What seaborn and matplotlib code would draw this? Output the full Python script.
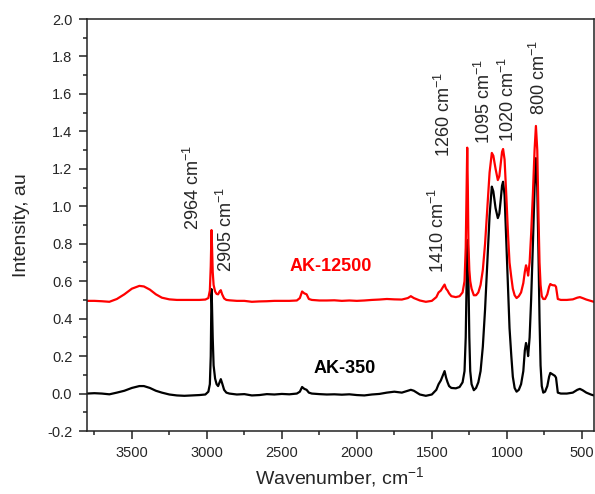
import numpy as np
import pandas as pd
import matplotlib
matplotlib.use("Agg")
import matplotlib.pyplot as plt
import seaborn as sns
from matplotlib.ticker import MultipleLocator

# wavenumber grid (cm-1) shared by both spectra
wavenumber = [
    3800, 3750, 3700, 3650, 3600, 3550, 3500, 3450, 3420, 3380, 3340, 3300,
    3250, 3200, 3150, 3100, 3050, 3010, 2990, 2980, 2974, 2969, 2966, 2961,
    2955, 2945, 2935, 2925, 2915, 2907, 2898, 2885, 2870, 2850, 2800, 2750,
    2700, 2650, 2600, 2550, 2500, 2450, 2400, 2380, 2365, 2350, 2335, 2320,
    2300, 2250, 2200, 2150, 2100, 2050, 2000, 1950, 1900, 1850, 1800, 1750,
    1700, 1660, 1640, 1620, 1580, 1540, 1500, 1470, 1455, 1440, 1425, 1415,
    1405, 1395, 1385, 1370, 1340, 1315, 1295, 1282, 1274, 1268, 1264, 1260,
    1256, 1250, 1244, 1235, 1220, 1205, 1190, 1175, 1160, 1145, 1130, 1115,
    1100, 1090, 1075, 1060, 1050, 1040, 1032, 1025, 1015, 1003, 992, 982,
    970, 960, 948, 935, 920, 905, 890, 880, 872, 864, 858, 848, 838, 826,
    815, 806, 797, 789, 782, 775, 767, 757, 745, 730, 718, 710, 700, 690,
    680, 672, 665, 660, 640, 600, 560, 530, 513, 495, 470, 440, 420,
]

ak350 = [
    0.000, 0.002, 0.000, -0.004, 0.005, 0.015, 0.030, 0.040, 0.040, 0.030, 0.015, 0.005,
    -0.005, -0.010, -0.012, -0.010, -0.008, -0.005, 0.010, 0.050, 0.200, 0.558, 0.480, 0.300,
    0.150, 0.080, 0.050, 0.040, 0.060, 0.077, 0.055, 0.020, 0.005, 0.000, -0.005, -0.003,
    -0.010, -0.008, -0.003, -0.005, -0.002, -0.004, 0.000, 0.010, 0.035, 0.025, 0.020, 0.005,
    0.000, -0.003, -0.005, -0.004, -0.006, -0.004, -0.008, -0.010, -0.005, -0.002, 0.005, 0.010,
    0.005, 0.015, 0.020, 0.015, -0.005, -0.012, -0.005, 0.020, 0.050, 0.070, 0.100, 0.120,
    0.085, 0.060, 0.040, 0.030, 0.028, 0.035, 0.060, 0.120, 0.300, 0.600, 0.800, 0.820,
    0.600, 0.300, 0.120, 0.050, 0.018, 0.030, 0.060, 0.120, 0.250, 0.450, 0.700, 0.950,
    1.105, 1.080, 0.990, 0.937, 0.960, 1.040, 1.110, 1.131, 1.060, 0.800, 0.550, 0.350,
    0.200, 0.090, 0.030, 0.010, 0.020, 0.050, 0.120, 0.230, 0.270, 0.240, 0.200, 0.300,
    0.500, 0.800, 1.100, 1.257, 1.100, 0.750, 0.400, 0.150, 0.040, 0.005, 0.010, 0.040,
    0.090, 0.110, 0.105, 0.100, 0.095, 0.085, 0.040, 0.005, 0.000, 0.000, 0.005, 0.020,
    0.025, 0.018, 0.005, -0.005, -0.010,
]

ak12500 = [
    0.495, 0.495, 0.493, 0.490, 0.505, 0.530, 0.560, 0.575, 0.572, 0.555, 0.530, 0.512,
    0.503, 0.500, 0.500, 0.500, 0.500, 0.502, 0.510, 0.550, 0.680, 0.873, 0.800, 0.650,
    0.580, 0.545, 0.532, 0.530, 0.545, 0.552, 0.530, 0.508, 0.500, 0.498, 0.495, 0.495,
    0.490, 0.492, 0.493, 0.495, 0.495, 0.495, 0.497, 0.510, 0.545, 0.535, 0.530, 0.505,
    0.500, 0.497, 0.497, 0.498, 0.495, 0.497, 0.495, 0.497, 0.500, 0.502, 0.505, 0.503,
    0.502, 0.510, 0.520, 0.510, 0.497, 0.490, 0.495, 0.515, 0.540, 0.550, 0.570, 0.582,
    0.560, 0.550, 0.535, 0.520, 0.515, 0.520, 0.540, 0.600, 0.780, 1.100, 1.313, 1.100,
    0.800, 0.660, 0.600, 0.560, 0.525, 0.525, 0.540, 0.580, 0.660, 0.800, 0.990, 1.180,
    1.285, 1.270, 1.200, 1.140, 1.160, 1.230, 1.290, 1.306, 1.250, 1.050, 0.850, 0.700,
    0.620, 0.560, 0.525, 0.510, 0.520, 0.540, 0.590, 0.650, 0.685, 0.660, 0.630, 0.700,
    0.850, 1.070, 1.300, 1.429, 1.300, 0.950, 0.700, 0.580, 0.520, 0.505, 0.505, 0.530,
    0.570, 0.585, 0.580, 0.578, 0.578, 0.570, 0.530, 0.505, 0.500, 0.500, 0.503, 0.512,
    0.515, 0.510, 0.502, 0.495, 0.490,
]

# peak annotations: label, x position, bottom of text
peak_labels = ["2964", "2905", "1410", "1260", "1095", "1020", "800"]
peak_label_x = [3095, 2870, 1457, 1420, 1150, 990, 787]
peak_label_y = [0.873, 0.649, 0.644, 1.263, 1.333, 1.345, 1.487]

series_names = ["AK-350", "AK-12500"]
series_colors = ["black", "red"]
series_label_x = [2083, 2173]
series_label_y = [0.134, 0.681]

sns.set_style("ticks")
plt.rcParams["font.family"] = ["Liberation Sans", "DejaVu Sans"]
plt.rcParams["mathtext.fontset"] = "custom"
plt.rcParams["mathtext.rm"] = "Liberation Sans"
plt.rcParams["mathtext.it"] = "Liberation Sans:italic"
plt.rcParams["mathtext.bf"] = "Liberation Sans:bold"

df = pd.DataFrame({"wavenumber": wavenumber, "AK-350": ak350, "AK-12500": ak12500})
long_df = df.melt(id_vars="wavenumber", var_name="sample", value_name="intensity")

fig = plt.figure(figsize=(5.95, 4.94), dpi=100)
ax = fig.add_axes([0.146, 0.1275, 0.852, 0.834])

sns.lineplot(data=long_df, x="wavenumber", y="intensity", hue="sample",
             hue_order=series_names, palette=series_colors, estimator=None,
             sort=False, linewidth=1.6, legend=False, ax=ax)

ax.set_xlim(3800, 420)
ax.set_ylim(-0.2, 2.0)
ax.xaxis.set_major_locator(MultipleLocator(500))
ax.xaxis.set_minor_locator(MultipleLocator(250))
ax.yaxis.set_major_locator(MultipleLocator(0.2))
ax.yaxis.set_minor_locator(MultipleLocator(0.1))
ax.yaxis.set_major_formatter(plt.FuncFormatter(lambda v, p: f"{v:.1f}"))

for side in ["top", "right", "left", "bottom"]:
    ax.spines[side].set_visible(True)
    ax.spines[side].set_linewidth(1.1)
    ax.spines[side].set_color("#222222")
ax.tick_params(which="both", direction="out", top=False, right=False,
               width=1.1, color="#222222", labelsize=10.5, pad=5)
ax.tick_params(which="major", length=5.5)
ax.tick_params(which="minor", length=3)

ax.set_xlabel("Wavenumber, cm$^{-1}$", fontsize=14, labelpad=4)
ax.set_ylabel("Intensity, au", fontsize=14, labelpad=12)

for lab, x, y in zip(peak_labels, peak_label_x, peak_label_y):
    ax.text(x, y, f"{lab} cm$^{{-1}}$", rotation=90, ha="center", va="bottom",
            fontsize=13)

for name, col, x, y in zip(series_names, series_colors, series_label_x, series_label_y):
    ax.text(x, y, name, color=col, fontsize=13, fontweight="bold",
            ha="center", va="center")

fig.savefig("out.png", dpi=100)
